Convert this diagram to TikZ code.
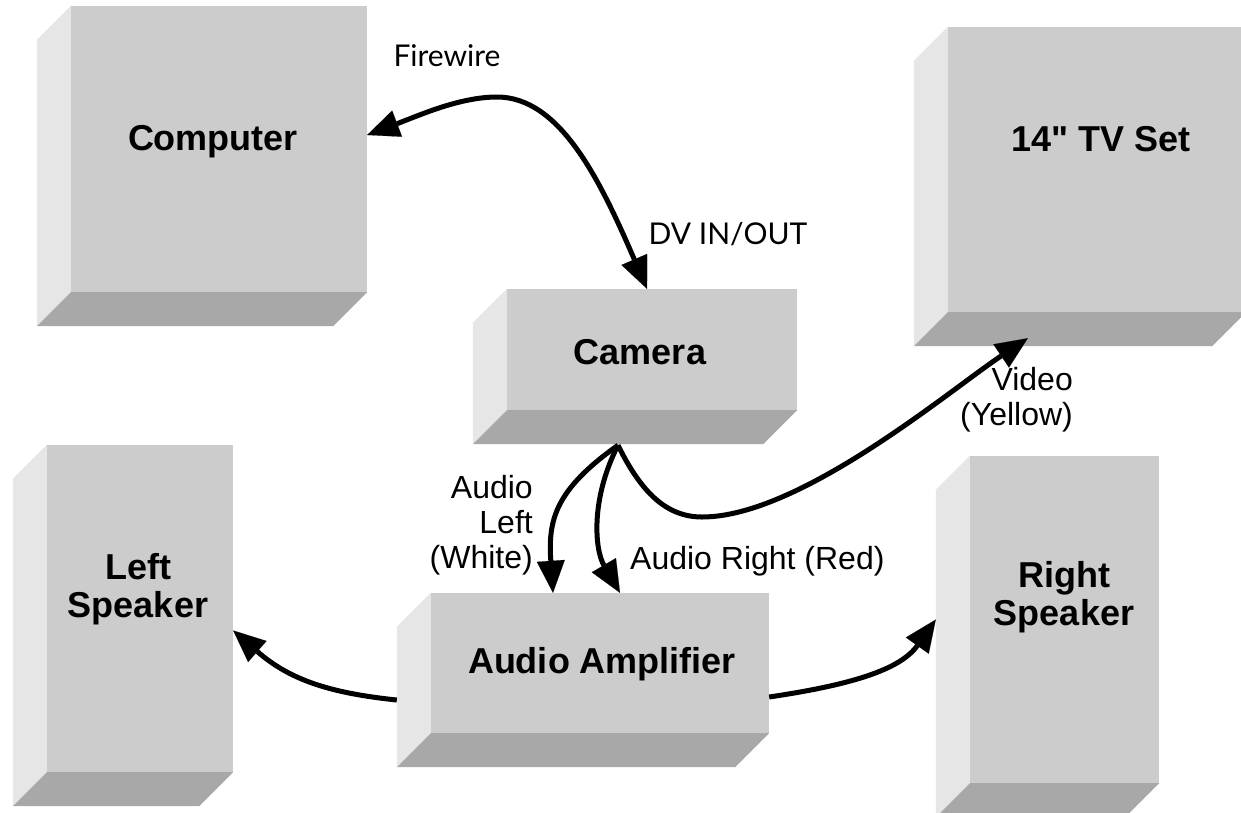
\documentclass[tikz,border=0pt]{standalone}
\usepackage{fontspec}
\setmainfont{Liberation Sans}[Ligatures=TeXOff]
\newfontfamily\gillfont{Lato}
\usetikzlibrary{arrows.meta}
\definecolor{frontgray}{RGB}{204,204,204}
\definecolor{sidegray}{RGB}{230,230,230}
\definecolor{bottomgray}{RGB}{168,168,168}
\tikzset{headtip/.tip={Triangle[length=32pt,width=28pt,line width=0.1pt]}}

\begin{document}
\begin{tikzpicture}[x=1pt, y=-1pt,
		unit/.style={fill=frontgray, inner sep=0pt},
		unittext/.style={font=\fontsize{36}{38}\selectfont\bfseries, align=center},
		wire/.style={line width=5pt, -headtip},
		wiretext/.style={font=\fontsize{32}{35}\selectfont, inner sep=0pt},
		dvtext/.style={font=\gillfont\fontsize{30}{32}\selectfont, inner sep=0pt}]
		\useasboundingbox(0,0)rectangle(1241,812);
		\clip(0,0)rectangle(1241,812);
		% front faces
		\node[unit, minimum width=296pt, minimum height=286pt](comp)at(219,149){};
		\node[unit, minimum width=290pt, minimum height=121pt](cam)at(652,349.5){};
		\node[unit, minimum width=298pt, minimum height=285pt](tv)at(1097,169.5){};
		\node[unit, minimum width=186pt, minimum height=327pt](lspk)at(140,608.5){};
		\node[unit, minimum width=189pt, minimum height=327pt](rspk)at(1064.5,619.5){};
		\node[unit, minimum width=338pt, minimum height=140pt](amp)at(600,663){};
		% side and bottom faces
		\foreach \n in {comp,cam,tv,lspk,rspk,amp}{
			\fill[sidegray](\n.north west)--++(-34,34)--([shift={(-34pt,-34pt)}]\n.south west)--(\n.south west)--cycle;
			\fill[bottomgray](\n.south west)--(\n.south east)--++(-34,34)--([shift={(-34pt,-34pt)}]\n.south west)--cycle;
		}
		\node[unittext](comp-t)at(213,142){Computer};
		\node[unittext](cam-t)at(640,352){Camera};
		\node[unittext](tv-t)at(1101,139){14" TV Set};
		\node[unittext](lspk-t)at(138,589){Left\\Speaker};
		\node[unittext](rspk-t)at(1064,597){Right\\Speaker};
		\node[unittext](amp-t)at(602,664){Audio Amplifier};
		% cables
		\coordinate(cam-out)at([shift={(-34pt,-35pt)}]cam.south);
		\draw[wire, headtip-headtip]([yshift=14pt]comp.east) .. controls (420,115) and (460,97) .. (497,97) .. controls (560,97) and (600,180) .. ([xshift=-5pt]cam.north);
		\draw[wire](cam-out) .. controls (555,490) and (548,520) .. ([xshift=-47pt]amp.north);
		\draw[wire](cam-out) .. controls (590,500) and (595,550) .. ([xshift=20pt]amp.north);
		\draw[wire](cam-out) .. controls (640,490) and (665,517) .. (702,517) .. controls (800,517) and (950,390) .. ([shift={(80pt,-26pt)}]tv.south west);
		\draw[wire]([shift={(-34pt,-37pt)}]amp.west) .. controls (330,693) and (290,680) .. ([yshift=-22pt]lspk.east);
		\draw[wire]([yshift=-34pt]amp.east) .. controls (850,685) and (900,670) .. ([xshift=-34pt]rspk.west);
		\node[dvtext](fw-t)at(447,56){Firewire};
		\node[dvtext](dv-t)at(728,234){DV IN/OUT};
		\node[wiretext, align=right, anchor=east](left-t)at(533,525){Audio\\Left\\(White)};
		\node[wiretext, anchor=west](right-t)at(630,561){Audio Right (Red)};
		\node[wiretext, align=right, anchor=east](video-t)at(1073,400){Video\\(Yellow)};
	\end{tikzpicture}
\end{document}
